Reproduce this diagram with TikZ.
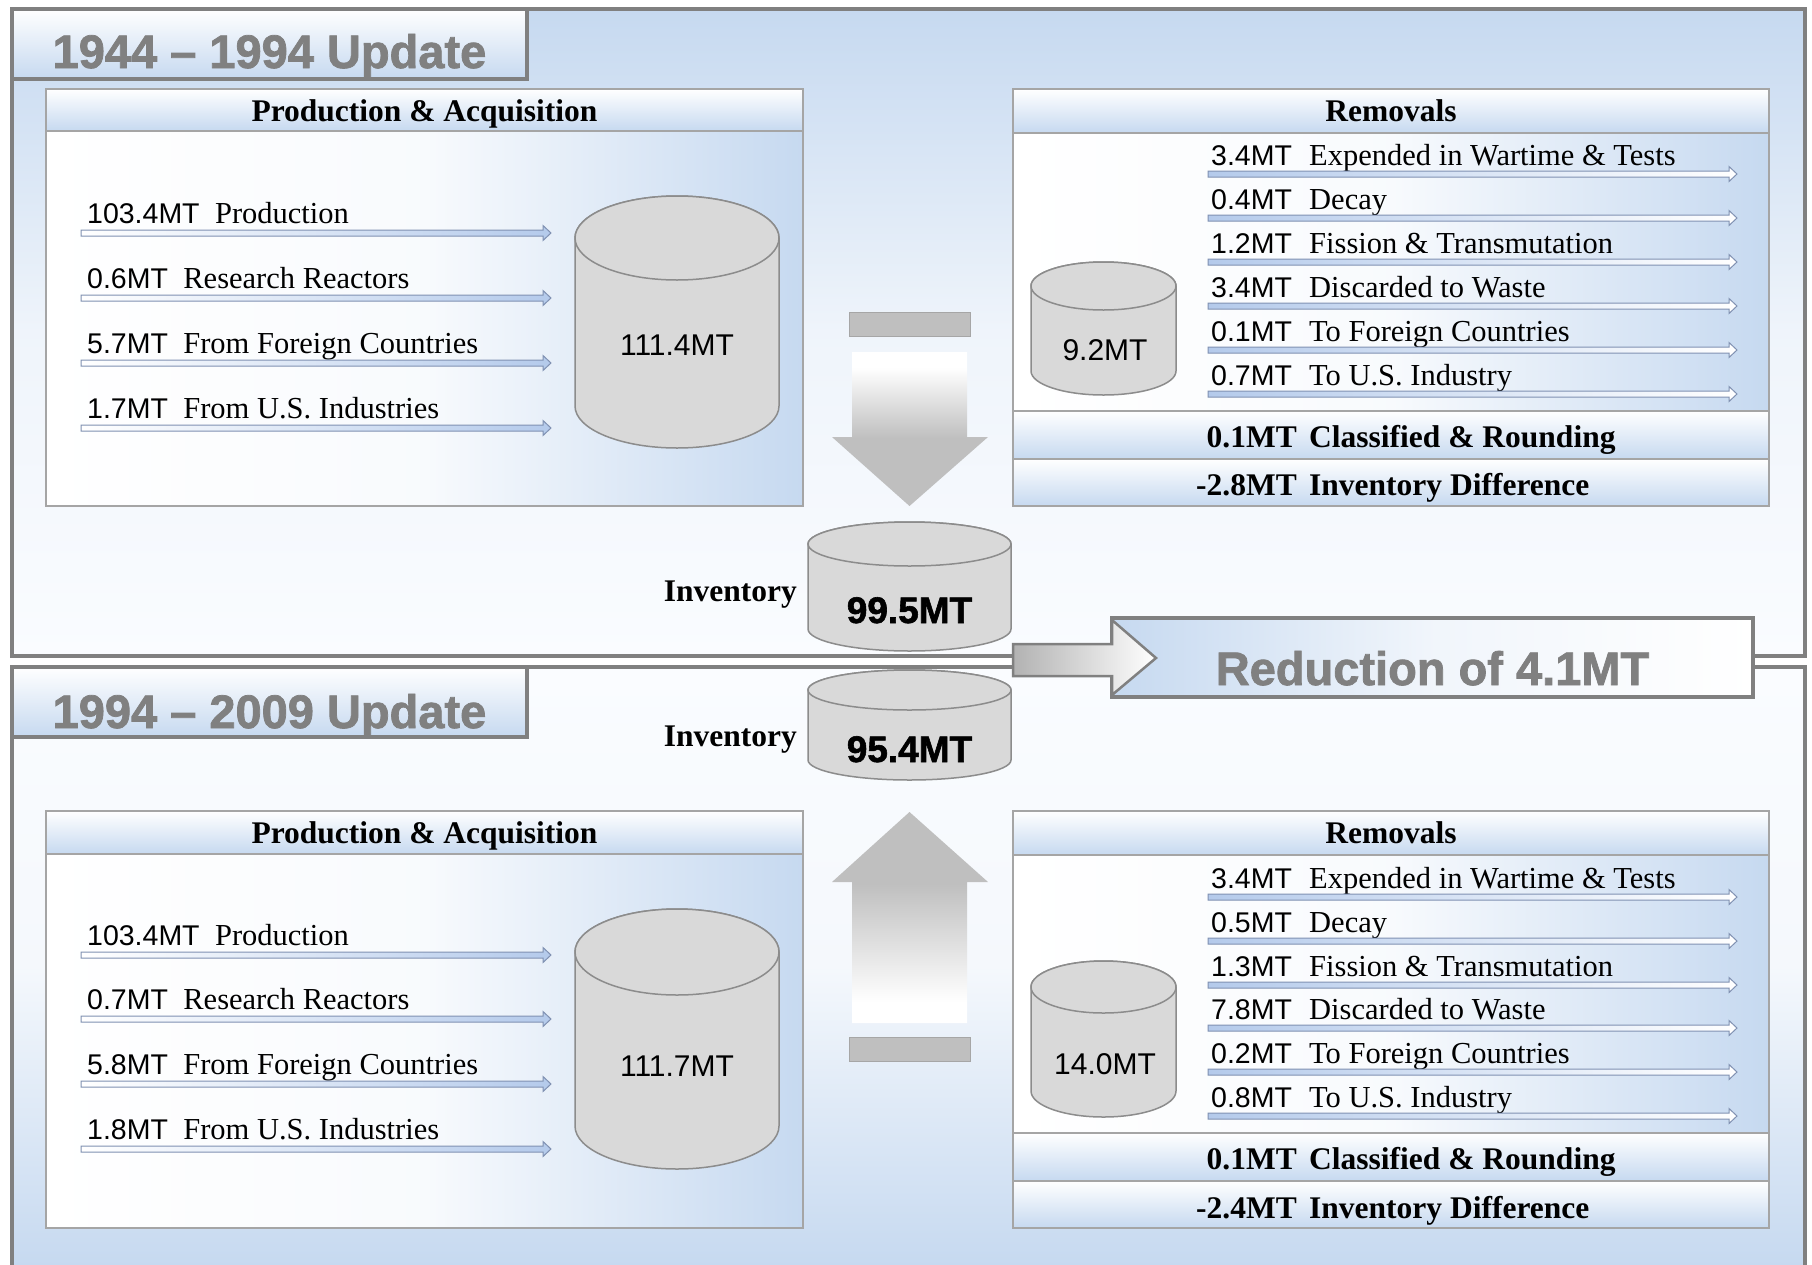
\documentclass[tikz,border=0pt]{standalone}
\usepackage{fontspec}
\setmainfont{Liberation Serif}
\setsansfont{Liberation Sans}
\newfontfamily\titlefont{Liberation Sans}[BoldFeatures={FakeBold=1.6}]
\definecolor{lblue}{RGB}{198,217,240}
\definecolor{paleblue}{RGB}{250,252,255}
\definecolor{bordergray}{RGB}{128,128,128}
\definecolor{boxgray}{RGB}{165,165,165}
\definecolor{cylgray}{RGB}{217,217,217}
\definecolor{cylline}{RGB}{140,140,140}
\definecolor{titlegray}{RGB}{128,128,128}
\definecolor{arrgray}{RGB}{191,191,191}
\definecolor{arrline}{RGB}{128,145,178}
\definecolor{arrblue}{RGB}{180,202,235}
\definecolor{minusgray}{RGB}{166,166,166}
\definecolor{redgray}{RGB}{178,178,178}
\pgfdeclareverticalshading{downarrowshade}{100bp}{color(0bp)=(arrgray); color(47bp)=(arrgray); color(70bp)=(white); color(100bp)=(white)}
\pgfdeclareverticalshading{uparrowshade}{100bp}{color(0bp)=(white); color(30bp)=(white); color(58bp)=(arrgray); color(100bp)=(arrgray)}
\newcommand\cylinder[5]{% cx, top, bottom, rx, ry
  \filldraw[cylshape] (#1-#4,#2+#5) -- (#1-#4,#3-#5) arc[start angle=180,end angle=0,x radius=#4,y radius=#5] -- (#1+#4,#2+#5) arc[start angle=0,end angle=-180,x radius=#4,y radius=#5] -- cycle;
  \draw[cylshape] (#1,#2+#5) ellipse[x radius=#4,y radius=#5];
}
\newcommand\larrow[4]{% x1, x2, y, style
  \shade[#4] (#1,#3-3) -- (#2-8,#3-3) -- (#2-8,#3-7.5) -- (#2,#3) -- (#2-8,#3+7.5) -- (#2-8,#3+3) -- (#1,#3+3) -- cycle;
}
\newcommand\pabox[3]{% top, header bottom, bottom
  \shade[left color=white, right color=lblue, middle color=white!88!lblue] (46,#2) rectangle (803,#3);
  \shade[top color=white, bottom color=lblue] (46,#1) rectangle (803,#2);
  \draw[boxborder] (46,#1) rectangle (803,#3) (46,#2) -- (803,#2);
}
\newcommand\rmbox[5]{% top, header bottom, body bottom, classified bottom, bottom
  \shade[left color=white, right color=lblue, middle color=white!88!lblue] (1013,#2) rectangle (1769,#3);
  \shade[top color=white, bottom color=lblue] (1013,#1) rectangle (1769,#2);
  \shade[top color=white, bottom color=lblue] (1013,#3) rectangle (1769,#4);
  \shade[top color=white, bottom color=lblue] (1013,#4) rectangle (1769,#5);
  \draw[boxborder] (1013,#1) rectangle (1769,#5) (1013,#2) -- (1769,#2) (1013,#3) -- (1769,#3) (1013,#4) -- (1769,#4);
}
\newcommand\prow[4]{% name, arrow y, label, description
  \node[lbltext, anchor=base west] (#1l) at (87,#2-10) {#3};
  \node[desctext, anchor=base west] (#1d) at ([xshift=15pt]#1l.base east) {#4};
  \larrow{81}{551}{#2}{listarrowP}
}
\newcommand\rrow[4]{% name, arrow y, label, description
  \node[lbltext, anchor=base west] (#1l) at (1211,#2-9) {#3};
  \node[desctext, anchor=base west] (#1d) at (1309,#2-9) {#4};
  \larrow{1208}{1737}{#2}{listarrowR}
}
\begin{document}
\begin{tikzpicture}[x=1pt,y=-1pt,
  panelborder/.style={draw=bordergray, line width=3.5pt},
  boxborder/.style={draw=boxgray, line width=1.5pt},
  cylshape/.style={fill=cylgray, draw=cylline, line width=1.5pt},
  listarrowP/.style={left color=white, right color=arrblue, draw=arrline, line width=1pt},
  listarrowR/.style={left color=arrblue, right color=white, draw=arrline, line width=1pt},
  lbltext/.style={inner sep=0pt, font=\sffamily\fontsize{28.5}{30}\selectfont},
  desctext/.style={inner sep=0pt, font=\fontsize{30.5}{32}\selectfont},
  hdrtext/.style={inner sep=0pt, font=\bfseries\fontsize{31.5}{33}\selectfont},
  titletext/.style={inner sep=0pt, text=titlegray, font=\titlefont\bfseries\fontsize{47}{49}\selectfont},
  cyltext/.style={inner sep=0pt, font=\sffamily\fontsize{30}{32}\selectfont},
  invtext/.style={inner sep=0pt, font=\titlefont\bfseries\fontsize{37}{39}\selectfont},
  invlabel/.style={inner sep=0pt, font=\bfseries\fontsize{31.5}{33}\selectfont}
]
\useasboundingbox (0,0) rectangle (1812,1264);
\fill[white] (0,0) rectangle (1812,1264);
% ---------- panels ----------
\shade[top color=lblue, bottom color=paleblue, middle color=white!72!lblue] (12,9) rectangle (1805,656);
\draw[panelborder] (12,9) rectangle (1805,656);
\shade[top color=paleblue, bottom color=lblue, middle color=white!82!lblue] (12,667) rectangle (1805,1266);
\draw[panelborder] (12,1268) -- (12,667) -- (1805,667) -- (1805,1268);
% tabs
\shade[top color=white, bottom color=lblue] (12,9) rectangle (527,79);
\draw[panelborder] (12,9) rectangle (527,79);
\node[titletext, anchor=base] (t1) at (269.5,68) {1944 – 1994 Update};
\shade[top color=white, bottom color=lblue] (12,667) rectangle (527,737);
\draw[panelborder] (12,667) rectangle (527,737);
\node[titletext, anchor=base] (t2) at (269.5,728) {1994 – 2009 Update};
% ---------- top: production & acquisition ----------
\pabox{89}{131}{506}
\node[hdrtext, anchor=base] (pa1h) at (424.5,121) {Production \& Acquisition};
\prow{pa1a}{233}{103.4MT}{Production}
\prow{pa1b}{298}{0.6MT}{Research Reactors}
\prow{pa1c}{363}{5.7MT}{From Foreign Countries}
\prow{pa1e}{428}{1.7MT}{From U.S. Industries}
\cylinder{677}{196}{448}{102}{42}
\node[cyltext, anchor=base] (c1) at (677,355) {111.4MT};
% ---------- top: removals ----------
\rmbox{89}{133}{411}{459}{506}
\node[hdrtext, anchor=base] (rm1h) at (1391,121) {Removals};
\rrow{rm1a}{174}{3.4MT}{Expended in Wartime \& Tests}
\rrow{rm1b}{218}{0.4MT}{Decay}
\rrow{rm1c}{262}{1.2MT}{Fission \& Transmutation}
\rrow{rm1d}{306}{3.4MT}{Discarded to Waste}
\rrow{rm1e}{350}{0.1MT}{To Foreign Countries}
\rrow{rm1f}{394}{0.7MT}{To U.S. Industry}
\cylinder{1103.5}{262}{395}{72.5}{24}
\node[cyltext, anchor=base] (c2) at (1105,360) {9.2MT};
\node[hdrtext, anchor=base east] (rm1cl) at (1297,447) {0.1MT};
\node[hdrtext, anchor=base west] (rm1cd) at (1309,447) {Classified \& Rounding};
\node[hdrtext, anchor=base east] (rm1il) at (1297,495) {-2.8MT};
\node[hdrtext, anchor=base west] (rm1id) at (1309,495) {Inventory Difference};
% ---------- bottom: production & acquisition ----------
\pabox{811}{854}{1228}
\node[hdrtext, anchor=base] (pa2h) at (424.5,843) {Production \& Acquisition};
\prow{pa2a}{955}{103.4MT}{Production}
\prow{pa2b}{1019}{0.7MT}{Research Reactors}
\prow{pa2c}{1084}{5.8MT}{From Foreign Countries}
\prow{pa2e}{1149}{1.8MT}{From U.S. Industries}
\cylinder{677}{909}{1169}{102}{43}
\node[cyltext, anchor=base] (c3) at (677,1076) {111.7MT};
% ---------- bottom: removals ----------
\rmbox{811}{855}{1133}{1181}{1228}
\node[hdrtext, anchor=base] (rm2h) at (1391,843) {Removals};
\rrow{rm2a}{897}{3.4MT}{Expended in Wartime \& Tests}
\rrow{rm2b}{941}{0.5MT}{Decay}
\rrow{rm2c}{985}{1.3MT}{Fission \& Transmutation}
\rrow{rm2d}{1028}{7.8MT}{Discarded to Waste}
\rrow{rm2e}{1072}{0.2MT}{To Foreign Countries}
\rrow{rm2f}{1116}{0.8MT}{To U.S. Industry}
\cylinder{1103.5}{961}{1117}{72.5}{26}
\node[cyltext, anchor=base] (c4) at (1105,1074) {14.0MT};
\node[hdrtext, anchor=base east] (rm2cl) at (1297,1169) {0.1MT};
\node[hdrtext, anchor=base west] (rm2cd) at (1309,1169) {Classified \& Rounding};
\node[hdrtext, anchor=base east] (rm2il) at (1297,1218) {-2.4MT};
\node[hdrtext, anchor=base west] (rm2id) at (1309,1218) {Inventory Difference};
% ---------- centre column ----------
\filldraw[fill=arrgray, draw=minusgray, line width=1pt] (849,312) rectangle (970,336);
\shade[shading=downarrowshade] (852,352) -- (967,352) -- (967,437) -- (988,437) -- (909.5,506) -- (832,437) -- (852,437) -- cycle;
\cylinder{909.5}{522}{651}{101.5}{22}
\node[invtext, anchor=base] (inv1) at (909.5,623) {99.5MT};
\node[invlabel, anchor=base east] (inv1l) at (797,601) {Inventory};
\cylinder{909.5}{670}{780}{101.5}{20}
\node[invtext, anchor=base] (inv2) at (909.5,762) {95.4MT};
\node[invlabel, anchor=base east] (inv2l) at (797,746) {Inventory};
\shade[shading=uparrowshade] (852,1023) -- (967,1023) -- (967,882) -- (988,882) -- (909.5,812) -- (832,882) -- (852,882) -- cycle;
\filldraw[fill=arrgray, draw=minusgray, line width=1pt] (849,1037) rectangle (970,1061);
% ---------- reduction ----------
\shade[left color=lblue, right color=white, middle color=white!75!lblue] (1112,618) rectangle (1753,697);
\draw[panelborder] (1112,618) rectangle (1753,697);
\shade[left color=redgray, right color=white, draw=bordergray, line width=2.5pt] (1013,644) -- (1112,644) -- (1112,620) -- (1156,658) -- (1112,695) -- (1112,676) -- (1013,676) -- cycle;
\node[titletext, anchor=base] (red) at (1432.5,685) {Reduction of 4.1MT};
\end{tikzpicture}
\end{document}
